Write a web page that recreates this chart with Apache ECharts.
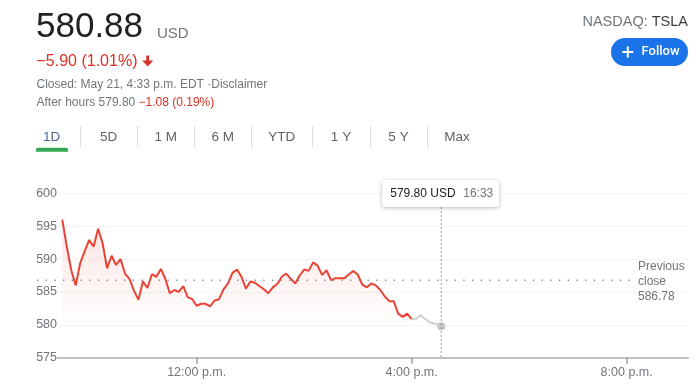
<!DOCTYPE html>
<html>
<head>
<meta charset="utf-8">
<script src="https://cdn.jsdelivr.net/npm/echarts@6/dist/echarts.min.js"></script>
<style>
html,body{margin:0;padding:0;background:#fff;}
#c{width:700px;height:387px;}
</style>
</head>
<body>
<div id="c"></div>
<script>
// ---- data ----
const sessionStart = '09:30';
const stepMinutes = 5;
const regularValues = [
  596.0, 591.9, 588.3, 586.0, 589.4, 591.2, 592.9, 591.9, 594.6, 592.4,
  588.6, 590.5, 589.1, 590.0, 587.8, 587.0, 585.2, 583.8, 586.6, 585.6,
  587.7, 587.3, 588.5, 587.0, 584.8, 585.3, 585.0, 585.9, 584.2, 583.9,
  582.9, 583.2, 583.2, 582.8, 583.7, 583.9, 585.4, 586.3, 587.9, 588.4,
  587.3, 585.5, 586.6, 586.4, 585.9, 585.4, 584.8, 585.7, 586.2, 587.3,
  587.8, 587.0, 586.3, 587.5, 588.4, 588.2, 589.5, 589.0, 587.6, 588.3,
  586.8, 587.1, 587.1, 587.1, 587.7, 588.2, 587.6, 586.1, 585.7, 586.3,
  586.0, 585.3, 584.3, 583.6, 583.6, 581.7, 581.2, 581.7, 580.88
];
const afterHoursTimes = ['16:00','16:05','16:10','16:15','16:20','16:25','16:30','16:33'];
const afterHoursValues = [580.88, 580.9, 581.5, 580.9, 580.4, 580.2, 580.1, 579.8];
const previousClose = 586.78;
const yTicks = [575, 580, 585, 590, 595, 600];
const xTickTimes = ['12:00', '16:00', '20:00'];
const xTickLabels = ['12:00 p.m.', '4:00 p.m.', '8:00 p.m.'];
const lastPrice = '579.80 USD';
const lastTime = '16:33';

function toMin(s){ const p = s.split(':'); return (+p[0])*60 + (+p[1]); }
const startMin = toMin(sessionStart);
const regularData = regularValues.map((v,i)=>[startMin + i*stepMinutes, v]);
const afterData = afterHoursValues.map((v,i)=>{
  const item = { value: [toMin(afterHoursTimes[i]), v] };
  if (i === afterHoursValues.length - 1) { item.symbol = 'circle'; item.symbolSize = 8; }
  return item;
});
const xTickValues = xTickTimes.map(toMin);
const labelMap = {};
xTickValues.forEach((v,i)=>labelMap[v] = xTickLabels[i]);

const FONT = 'Arial, "Liberation Sans", sans-serif';
const chart = echarts.init(document.getElementById('c'), null, {renderer:'canvas'});

chart.setOption({
  animation: false,
  backgroundColor: '#fff',
  grid: { left: 58, right: 12, top: 193.3, bottom: 29.3, containLabel: false },
  xAxis: {
    type: 'value',
    min: 565.2, max: 1268.5,
    splitLine: { show: false },
    axisLine: { show: true, lineStyle: { color: '#bdc1c6', width: 2 } },
    axisTick: { show: true, customValues: xTickValues, length: 6, lineStyle: { color: '#9aa0a6', width: 1.5 } },
    axisLabel: { customValues: xTickValues, formatter: v => labelMap[v] || '', color: '#70757a', fontSize: 12.5, fontFamily: FONT, margin: 8 }
  },
  yAxis: {
    type: 'value',
    min: yTicks[0], max: yTicks[yTicks.length-1], interval: 5,
    axisLine: { show: false }, axisTick: { show: false },
    splitLine: { show: true, lineStyle: { color: '#f1f3f4', width: 1 } },
    axisLabel: { color: '#70757a', fontSize: 12.5, fontFamily: FONT, margin: 1 }
  },
  series: [
    {
      type: 'line', data: regularData, showSymbol: false, symbol: 'none',
      lineStyle: { color: '#ea4335', width: 2 },
      itemStyle: { color: '#ea4335' },
      areaStyle: {
        color: new echarts.graphic.LinearGradient(0,0,0,1,[
          {offset:0, color:'rgba(234,67,53,0.2)'},
          {offset:0.8, color:'rgba(234,67,53,0.0)'},
          {offset:1, color:'rgba(234,67,53,0)'}
        ])
      },
      z: 3
    },
    {
      type: 'line', data: afterData, showSymbol: true, symbol: 'none',
      lineStyle: { color: '#cfd1d4', width: 2 },
      itemStyle: { color: '#c4c7ca' },
      z: 4
    }
  ]
});

// decorations positioned through the chart's own coordinate conversion
const endPt = chart.convertToPixel({gridIndex:0}, [toMin(lastTime), afterHoursValues[afterHoursValues.length-1]]);
const prevY = chart.convertToPixel({gridIndex:0}, [startMin, previousClose])[1];
const axisBottomY = chart.convertToPixel({gridIndex:0}, [startMin, yTicks[0]])[1];
const prevEndX = 632;
const cx = endPt[0];

chart.setOption({
  graphic: [
    // header
    { type:'text', style:{ x:36, y:27, text:'580.88', font:'35px '+FONT, fill:'#202124', textVerticalAlign:'middle' } },
    { type:'text', style:{ x:157, y:34, text:'USD', font:'15px '+FONT, fill:'#70757a', textVerticalAlign:'middle' } },
    { type:'text', style:{ x:36.5, y:61.5, text:'\u22125.90 (1.01%)', font:'16px '+FONT, fill:'#d93025', textVerticalAlign:'middle' } },
    { type:'rect', shape:{ x:146.3, y:55.5, width:2.8, height:6 }, style:{ fill:'#d93025' } },
    { type:'polygon', shape:{ points:[[142.2,60.5],[153.2,60.5],[147.7,66.5]] }, style:{ fill:'#d93025' } },
    { type:'text', style:{ x:36.5, y:85, text:'Closed: May 21, 4:33 p.m. EDT \u00b7Disclaimer', font:'12px '+FONT, fill:'#70757a', textVerticalAlign:'middle' } },
    { type:'text', style:{ x:36.5, y:102.5, text:'After hours 579.80', font:'12px '+FONT, fill:'#70757a', textVerticalAlign:'middle' } },
    { type:'text', style:{ x:138.5, y:102.5, text:'\u22121.08 (0.19%)', font:'12px '+FONT, fill:'#d93025', textVerticalAlign:'middle' } },
    { type:'text', style:{ x:688, y:22, text:'{a|NASDAQ: }{b|TSLA}', textAlign:'right', textVerticalAlign:'middle',
        rich:{ a:{ font:'14.5px '+FONT, fill:'#70757a' }, b:{ font:'14.5px '+FONT, fill:'#3c4043' } } } },
    { type:'rect', shape:{ x:611, y:38, width:77, height:28, r:14 }, style:{ fill:'#1a73e8' } },
    { type:'rect', shape:{ x:622.3, y:51, width:11, height:2 }, style:{ fill:'#fff' } },
    { type:'rect', shape:{ x:626.8, y:46.5, width:2, height:11 }, style:{ fill:'#fff' } },
    { type:'text', style:{ x:641.5, y:52, text:'Follow', font:'500 13px Roboto, '+FONT, fill:'#fff', textVerticalAlign:'middle' } },
    // tabs
    { type:'text', style:{ x:51.7, y:137, text:'1D', font:'13.5px '+FONT, fill:'#4f6694', textAlign:'center', textVerticalAlign:'middle' } },
    { type:'text', style:{ x:108.7, y:137, text:'5D', font:'13.5px '+FONT, fill:'#5f6368', textAlign:'center', textVerticalAlign:'middle' } },
    { type:'text', style:{ x:165.8, y:137, text:'1 M', font:'13.5px '+FONT, fill:'#5f6368', textAlign:'center', textVerticalAlign:'middle' } },
    { type:'text', style:{ x:222.7, y:137, text:'6 M', font:'13.5px '+FONT, fill:'#5f6368', textAlign:'center', textVerticalAlign:'middle' } },
    { type:'text', style:{ x:281.7, y:137, text:'YTD', font:'13.5px '+FONT, fill:'#5f6368', textAlign:'center', textVerticalAlign:'middle' } },
    { type:'text', style:{ x:341, y:137, text:'1 Y', font:'13.5px '+FONT, fill:'#5f6368', textAlign:'center', textVerticalAlign:'middle' } },
    { type:'text', style:{ x:398.5, y:137, text:'5 Y', font:'13.5px '+FONT, fill:'#5f6368', textAlign:'center', textVerticalAlign:'middle' } },
    { type:'text', style:{ x:457, y:137, text:'Max', font:'13.5px '+FONT, fill:'#5f6368', textAlign:'center', textVerticalAlign:'middle' } },
    { type:'line', shape:{ x1:80.5, y1:126, x2:80.5, y2:147 }, style:{ stroke:'#dadce0', lineWidth:1 } },
    { type:'line', shape:{ x1:137.5, y1:126, x2:137.5, y2:147 }, style:{ stroke:'#dadce0', lineWidth:1 } },
    { type:'line', shape:{ x1:194.5, y1:126, x2:194.5, y2:147 }, style:{ stroke:'#dadce0', lineWidth:1 } },
    { type:'line', shape:{ x1:251.5, y1:126, x2:251.5, y2:147 }, style:{ stroke:'#dadce0', lineWidth:1 } },
    { type:'line', shape:{ x1:312.5, y1:126, x2:312.5, y2:147 }, style:{ stroke:'#dadce0', lineWidth:1 } },
    { type:'line', shape:{ x1:370.5, y1:126, x2:370.5, y2:147 }, style:{ stroke:'#dadce0', lineWidth:1 } },
    { type:'line', shape:{ x1:427.5, y1:126, x2:427.5, y2:147 }, style:{ stroke:'#dadce0', lineWidth:1 } },
    { type:'rect', shape:{ x:36, y:147.7, width:32, height:4, r:[2,2,0,0] }, style:{ fill:'#34a853' } },
    // previous close
    { type:'line', z:5, shape:{ x1:37, y1:prevY, x2:prevEndX, y2:prevY }, style:{ stroke:'#80868b', lineWidth:1.3, lineDash:[1.3,7.4] } },
    { type:'text', z:5, style:{ x:638, y:prevY+1.5, text:'Previous\nclose\n586.78', font:'12px '+FONT, lineHeight:15, fill:'#70757a', textVerticalAlign:'middle' } },
    // crosshair + tooltip
    { type:'line', z:6, shape:{ x1:cx, y1:207, x2:cx, y2:axisBottomY }, style:{ stroke:'#9aa0a6', lineWidth:1, lineDash:[2,2] } },
    { type:'rect', z:7, shape:{ x:cx-59, y:180, width:117, height:27, r:3 },
      style:{ fill:'#fff', shadowBlur:4, shadowOffsetY:1, shadowColor:'rgba(0,0,0,0.28)' } },
    { type:'text', z:8, style:{ x:cx-51, y:193.5, text:lastPrice, font:'12px '+FONT, fill:'#202124', textVerticalAlign:'middle' } },
    { type:'text', z:8, style:{ x:cx+22, y:193.5, text:lastTime, font:'12px '+FONT, fill:'#70757a', textVerticalAlign:'middle' } }
  ]
});
</script>
</body>
</html>
